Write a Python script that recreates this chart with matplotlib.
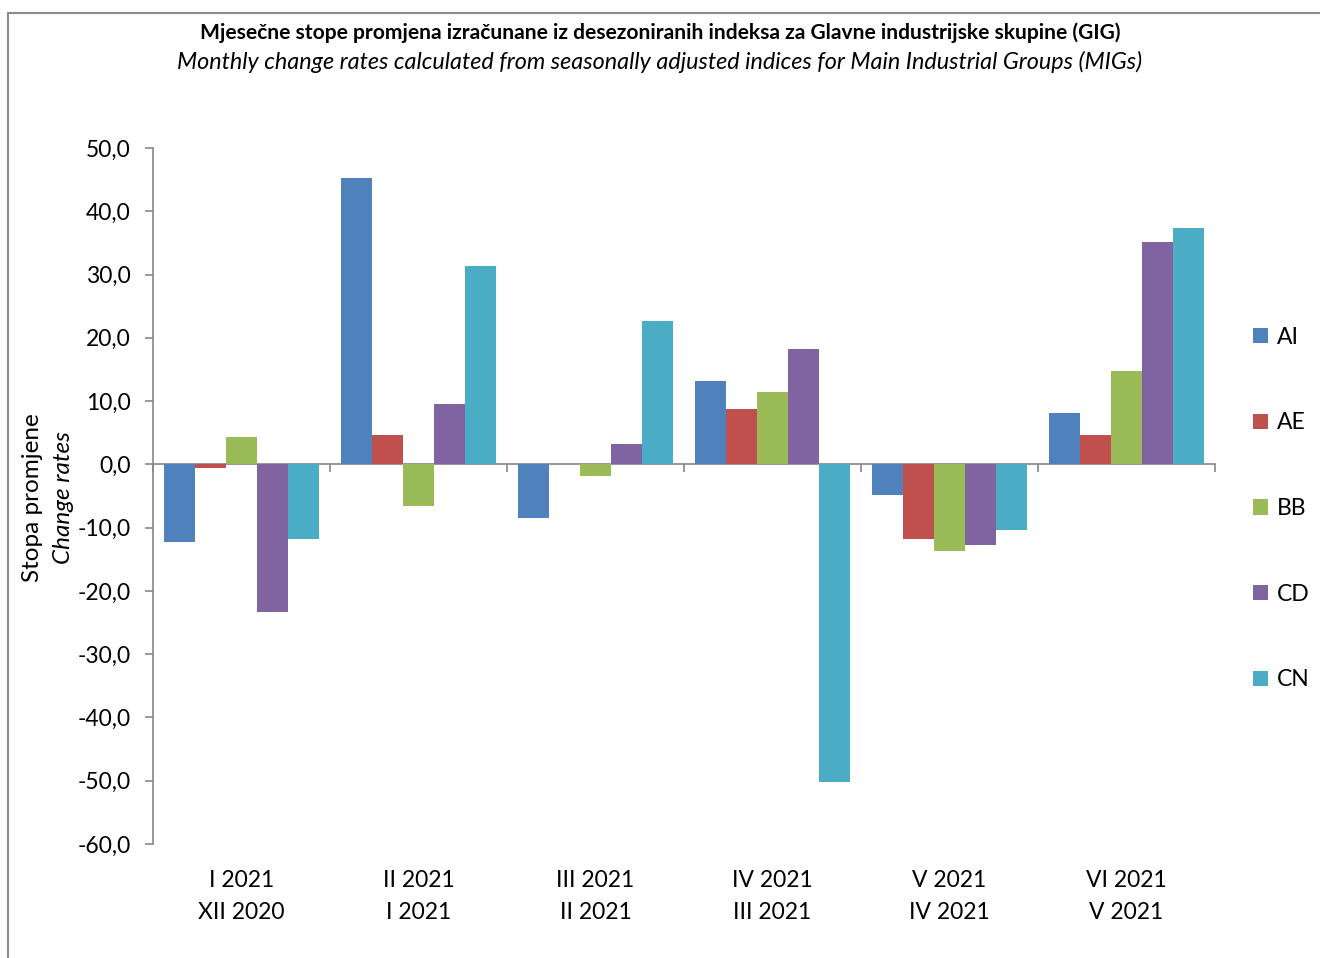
import matplotlib
matplotlib.use('Agg')

import matplotlib.pyplot as plt
from matplotlib.ticker import FuncFormatter
from matplotlib.patches import Rectangle
import matplotlib.transforms as mtransforms
import numpy as np

plt.rcParams['font.family'] = ['Lato', 'DejaVu Sans']

periods_top = ["I 2021", "II 2021", "III 2021", "IV 2021", "V 2021", "VI 2021"]
periods_bottom = ["XII 2020", "I 2021", "II 2021", "III 2021", "IV 2021", "V 2021"]
series_names = ["AI", "AE", "BB", "CD", "CN"]
colors = ["#4F81BD", "#C0504D", "#9BBB59", "#8064A2", "#4BACC6"]

ai = [-12.2, 45.2, -8.4, 13.1, -4.9, 8.1]
ae = [-0.5, 4.6, 0.1, 8.7, -11.8, 4.7]
bb = [4.3, -6.6, -1.9, 11.4, -13.7, 14.8]
cd = [-23.4, 9.6, 3.2, 18.2, -12.8, 35.1]
cn = [-11.8, 31.3, 22.6, -50.2, -10.4, 37.3]
values = [ai, ae, bb, cd, cn]

fig = plt.figure(figsize=(13.2, 9.58), dpi=100)
ax = fig.add_axes([0.1159, 0.119, 0.8046, 0.7265])

x = np.arange(len(periods_top))
w = 0.176
for i, (name, vals) in enumerate(zip(series_names, values)):
    ax.bar(x + (i - 2) * w, vals, width=w, color=colors[i], label=name, zorder=2)

grey = "#868686"
ax.set_xlim(-0.5, len(periods_top) - 0.5)
ax.set_ylim(-60, 50)
ax.set_yticks(np.arange(-60, 51, 10))
ax.yaxis.set_major_formatter(FuncFormatter(lambda v, p: f"{v:.1f}".replace(".", ",")))
ax.tick_params(axis='y', colors=grey, labelcolor='black', labelsize=16.5, length=6,
               width=1.2, pad=10)

ax.spines['top'].set_visible(False)
ax.spines['right'].set_visible(False)
ax.spines['left'].set_color(grey)
ax.spines['left'].set_linewidth(1.2)
ax.spines['bottom'].set_position(('data', 0))
ax.spines['bottom'].set_color(grey)
ax.spines['bottom'].set_linewidth(1.2)
ax.spines['bottom'].set_zorder(1)
ax.set_xticks(np.arange(-0.5, len(periods_top), 1))
ax.tick_params(axis='x', colors=grey, labelbottom=False, length=6, width=1.2)

trans = mtransforms.blended_transform_factory(ax.transData, ax.transAxes)
for xi, t, b in zip(x, periods_top, periods_bottom):
    ax.text(xi, -0.052, t, transform=trans, ha='center', va='center', fontsize=16.5)
    ax.text(xi, -0.099, b, transform=trans, ha='center', va='center', fontsize=16.5)

fig.text(0.025, 0.481, "Stopa promjene", rotation=90, ha='center', va='center', fontsize=17.5)
fig.text(0.048, 0.481, "Change rates", rotation=90, ha='center', va='center', fontsize=17.5,
         style='italic')

fig.text(0.5, 0.966, "Mjesečne stope promjena izračunane iz desezoniranih indeksa za Glavne industrijske skupine (GIG)",
         ha='center', va='center', fontsize=15.1, fontweight='bold')
fig.text(0.5, 0.935, "Monthly change rates calculated from seasonally adjusted indices for Main Industrial Groups (MIGs)",
         ha='center', va='center', fontsize=16.8, style='italic')

ax.legend(loc='center left', bbox_to_anchor=(1.0, 0.482), frameon=False, fontsize=16.5,
          handlelength=0.65, handleheight=0.65, handletextpad=0.4, labelspacing=2.82,
          borderaxespad=1.25)

fig.patches.append(Rectangle((0.006, -0.1), 1.1, 1.0864, transform=fig.transFigure,
                             fill=False, edgecolor='#8c8c8c', linewidth=1.5))

plt.savefig("out.png", dpi=100)
